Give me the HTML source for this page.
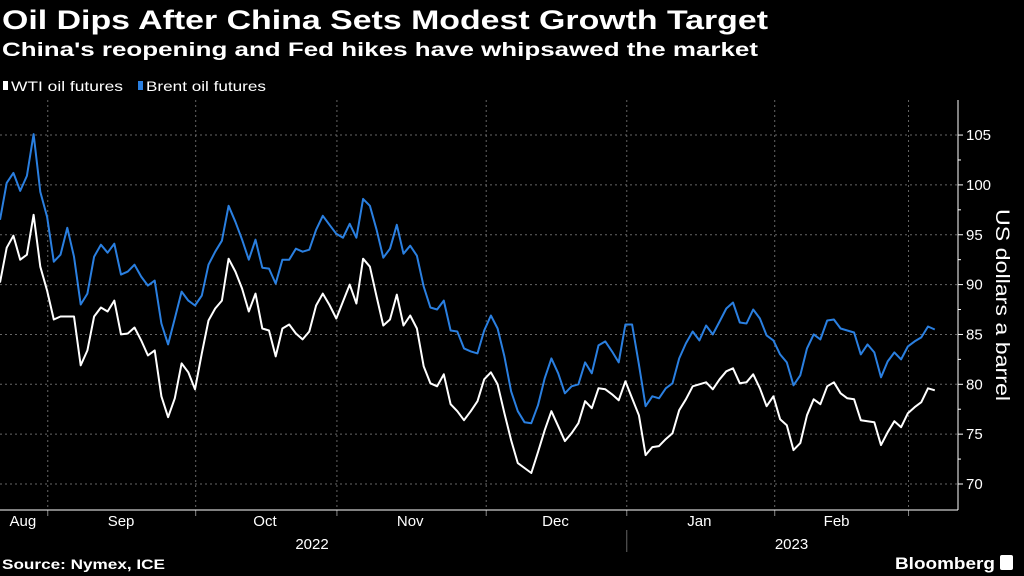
<!DOCTYPE html>
<html><head><meta charset="utf-8"><style>
html,body{margin:0;padding:0;background:#000;}
svg{display:block;font-family:"Liberation Sans",sans-serif;}
</style></head><body>
<svg id="chart" width="1024" height="576" viewBox="0 0 1024 576" xmlns="http://www.w3.org/2000/svg">
<rect width="1024" height="576" fill="#000"/>
<text x="2" y="29" fill="#fff" font-size="27" font-weight="bold" textLength="766" lengthAdjust="spacingAndGlyphs">Oil Dips After China Sets Modest Growth Target</text>
<text x="2" y="56" fill="#fff" font-size="19" font-weight="bold" textLength="756" lengthAdjust="spacingAndGlyphs">China's reopening and Fed hikes have whipsawed the market</text>
<g>
<rect x="3" y="81" width="5" height="9" fill="#fff"/>
<text x="11" y="91" fill="#fff" font-size="14" textLength="112" lengthAdjust="spacingAndGlyphs">WTI oil futures</text>
<rect x="138" y="81" width="5" height="9" fill="#2a7fe0"/>
<text x="146" y="91" fill="#fff" font-size="14" textLength="120" lengthAdjust="spacingAndGlyphs">Brent oil futures</text>
</g>
<g id="grid"></g>
<g id="axes"></g>
<g id="series"></g>
<text transform="translate(996,305) rotate(90)" text-anchor="middle" fill="#fff" font-size="19" textLength="192" lengthAdjust="spacingAndGlyphs">US dollars a barrel</text>
<text x="2" y="569" fill="#fff" font-size="14" font-weight="bold" textLength="163" lengthAdjust="spacingAndGlyphs">Source: Nymex, ICE</text>
<text x="995" y="569" text-anchor="end" fill="#fff" font-size="17" font-weight="bold" textLength="100" lengthAdjust="spacingAndGlyphs">Bloomberg</text>
<rect x="1000" y="555" width="13" height="15" rx="2" fill="#fff"/>
</svg>
<script>
const brent = [96.5,100.2,101.2,99.4,100.9,105.1,99.3,96.8,92.3,93.0,95.7,92.8,88.0,89.1,92.8,94.0,93.2,94.1,91.0,91.3,92.0,90.8,89.9,90.4,86.1,84.0,86.6,89.3,88.4,87.9,88.9,92.0,93.3,94.4,97.9,96.3,94.5,92.5,94.5,91.7,91.6,90.1,92.5,92.5,93.6,93.3,93.5,95.5,96.9,
96.0,95.1,94.7,96.1,94.7,98.6,97.9,95.5,92.7,93.6,96.0,93.1,93.9,92.9,89.8,87.7,87.5,88.4,85.4,85.3,83.6,83.3,83.1,85.4,86.9,85.6,82.8,79.3,77.3,76.2,76.1,77.9,80.6,82.6,81.1,79.1,79.8,80.0,82.2,81.1,83.9,84.3,83.3,82.2,86.0,86.0,82.0,
77.8,78.8,78.6,79.6,80.1,82.6,84.1,85.3,84.4,85.9,85.0,86.3,87.6,88.2,86.2,86.1,87.5,86.6,84.9,84.4,83.0,82.2,79.9,80.9,83.6,85.0,84.5,86.4,86.5,85.6,85.4,85.2,83.0,84.0,83.2,80.7,82.3,83.2,82.5,83.8,84.3,84.7,85.8,85.5];
const wti = [90.2,93.7,94.9,92.5,93.0,97.0,91.8,89.4,86.5,86.8,86.8,86.8,81.9,83.4,86.8,87.7,87.3,88.4,85.0,85.1,85.7,84.4,82.9,83.4,78.8,76.7,78.6,82.1,81.2,79.5,83.1,86.4,87.6,88.4,92.6,91.3,89.6,87.3,89.1,85.6,85.4,82.8,85.6,86.0,85.1,84.5,85.3,87.9,89.1,
87.95,86.6,88.3,90.0,88.1,92.6,91.8,88.8,85.9,86.5,89.0,85.9,86.9,85.6,81.8,80.1,79.8,81.0,78.0,77.3,76.4,77.3,78.3,80.5,81.2,80.0,77.1,74.4,72.1,71.6,71.1,73.2,75.4,77.3,75.8,74.3,75.1,76.1,78.3,77.6,79.6,79.5,79.0,78.4,80.3,78.6,76.9,
72.9,73.7,73.8,74.5,75.1,77.4,78.5,79.8,80.0,80.2,79.5,80.5,81.3,81.6,80.1,80.2,81.0,79.6,77.8,78.8,76.5,75.9,73.4,74.1,76.9,78.5,78.0,79.8,80.2,79.1,78.6,78.5,76.4,76.3,76.2,73.9,75.2,76.3,75.7,77.1,77.7,78.2,79.6,79.4];
const yTicks = [70,75,80,85,90,95,100,105];
const monthLabels = ["Aug","Sep","Oct","Nov","Dec","Jan","Feb"];
const monthStartIdx = [7.1,29.1,50.1,72.3,93.2,115.2,135.1];
const monthLabelIdx = [3.4,18,39.4,61,82.6,104,124.4];
const yearLabels = ["2022","2023"];
const yearLabelIdx = [46.4,117.7];

const NS="http://www.w3.org/2000/svg";
const X0=0, STEP=6.725;
const xs=i=>X0+i*STEP;
const ys=v=>484-(v-70)*9.97;
function mk(tag,attrs,parent){const e=document.createElementNS(NS,tag);for(const k in attrs)e.setAttribute(k,attrs[k]);parent.appendChild(e);return e;}
const grid=document.getElementById('grid'),axes=document.getElementById('axes'),series=document.getElementById('series');
yTicks.forEach(v=>{
  const l=mk('line',{x1:0,x2:958,y1:ys(v),y2:ys(v),stroke:'#666','stroke-width':1,'stroke-dasharray':'2,3'},grid);
  
  
  const t=mk('line',{x1:958,x2:963,y1:ys(v),y2:ys(v),stroke:'#fff','stroke-width':1},axes);
  
  
  const tx=mk('text',{x:966,y:ys(v)+5,fill:'#fff','font-size':15},axes);
  tx.textContent=v;
  
  
});
for(let v=72.5;v<106;v+=5){
  const t=mk('line',{x1:958,x2:961,y1:ys(v),y2:ys(v),stroke:'#fff','stroke-width':1},axes);
  
  
}
monthStartIdx.forEach(i=>{
  const g=mk('line',{x1:xs(i),x2:xs(i),y1:100,y2:510,stroke:'#666','stroke-width':1,'stroke-dasharray':'2,3'},grid);
  
  
  const t=mk('line',{x1:xs(i),x2:xs(i),y1:510,y2:516,stroke:'#888','stroke-width':1},axes);
  
  
});
const ya=mk('line',{x1:958,x2:958,y1:100,y2:510,stroke:'#fff','stroke-width':1},axes);


const xa=mk('line',{x1:0,x2:958,y1:510,y2:510,stroke:'#fff','stroke-width':1},axes);


const ysep=mk('line',{x1:xs(93.2),x2:xs(93.2),y1:530,y2:552,stroke:'#666','stroke-width':1},axes);


monthLabels.forEach((m,k)=>{
  const t=mk('text',{x:xs(monthLabelIdx[k]),y:526,fill:'#fff','font-size':15,'text-anchor':'middle'},axes);
  t.textContent=m;
  
  
});
yearLabels.forEach((m,k)=>{
  const t=mk('text',{x:xs(yearLabelIdx[k]),y:549,fill:'#fff','font-size':15,'text-anchor':'middle'},axes);
  t.textContent=m;
  
  
});
function line(arr,color,name){
  const d=arr.map((v,i)=>(i?'L':'M')+xs(i).toFixed(1)+','+ys(v).toFixed(1)).join('');
  const p=mk('path',{d:d,fill:'none',stroke:color,'stroke-width':2,'stroke-linejoin':'round'},series);
  
  
}
line(brent,'#2a7fe0','brent-line');
line(wti,'#ffffff','wti-line');
</script>
</body></html>
